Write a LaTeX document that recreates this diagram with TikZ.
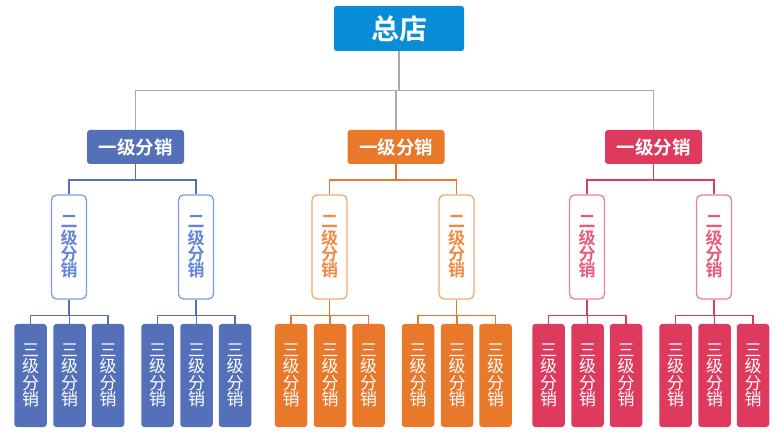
\documentclass[tikz,border=0pt]{standalone}
\usepackage{fontspec}
\newfontfamily\cjk{Noto Sans CJK SC}
\newfontfamily\cjkb{Noto Sans CJK SC Bold}
\definecolor{topc}{HTML}{0A8DD7}
\definecolor{bmain}{HTML}{5470B9}
\definecolor{blight}{HTML}{7C9CE6}
\definecolor{btext}{HTML}{6584D9}
\definecolor{omain}{HTML}{E8782A}
\definecolor{olight}{HTML}{F5A86E}
\definecolor{otext}{HTML}{EF8A44}
\definecolor{rmain}{HTML}{DE3A5E}
\definecolor{rlight}{HTML}{EE7E97}
\definecolor{rtext}{HTML}{E65A7B}
\definecolor{graylink}{HTML}{AAAAAA}
\tikzset{
  topn/.style={fill=topc, rounded corners=2.5pt, minimum width=130pt, minimum height=45pt, inner sep=0pt, text=white, font=\cjkb\fontsize{28}{32}\selectfont},
  lvA/.style={rounded corners=3pt, minimum width=97pt, minimum height=34pt, inner sep=0pt, text=white, font=\cjkb\fontsize{18.5}{22}\selectfont},
  lvB/.style={fill=white, rounded corners=5pt, line width=1.3pt, minimum width=35pt, minimum height=104pt, inner sep=0pt, align=center, font=\cjkb\fontsize{17}{16.3}\selectfont},
  lvC/.style={rounded corners=3pt, minimum width=32.5pt, minimum height=103pt, inner sep=0pt, align=center, text=white, font=\cjk\fontsize{17}{16.5}\selectfont},
  conn/.style={line width=1.4pt},
}
\newcommand\subgrp[4]{% #1 name, #2 cx, #3 main, #4 light
  \node[lvC, fill=#3] (#1a) at ({#2-38.5},375.5) {三\\级\\分\\销};
  \node[lvC, fill=#3] (#1b) at ({#2+0.5},375.5) {三\\级\\分\\销};
  \node[lvC, fill=#3] (#1c) at ({#2+39},375.5) {三\\级\\分\\销};
  \draw[conn, draw=#3] (#1.south) -- ++(0,16) coordinate (#1bus);
  \draw[conn, draw=#3] (#1a.north) |- (#1bus) -| (#1c.north);
  \draw[conn, draw=#3] (#1b.north) -- (#1b.north |- #1bus);
}
\newcommand\grp[5]{% #1 name, #2 cx, #3 main, #4 light, #5 text
  \node[lvA, fill=#3] (#1) at (#2,147) {一级分销};
  \node[lvB, draw=#4, text=#5] (#1L) at ({#2-66.5},247) {二\\级\\分\\销};
  \node[lvB, draw=#4, text=#5] (#1R) at ({#2+60.5},247) {二\\级\\分\\销};
  \draw[conn, draw=#3] (#1.south) -- ++(0,16) coordinate (#1bus);
  \draw[conn, draw=#3] (#1L.north) |- (#1bus) -| (#1R.north);
  \subgrp{#1L}{#2-66.5}{#3}{#4}
  \subgrp{#1R}{#2+60.5}{#3}{#4}
}
\begin{document}
\begin{tikzpicture}[x=1pt, y=-1pt]
  \useasboundingbox (0,0) rectangle (784,435);
  \node[topn] (top) at (399,28.5) {总店};
  \grp{B}{135.5}{bmain}{blight}{btext}
  \grp{O}{396}{omain}{olight}{otext}
  \grp{R}{653.5}{rmain}{rlight}{rtext}
  \draw[line width=1.2pt, graylink] (top.south) -- ++(0,39) coordinate (topbus);
  \draw[line width=1.2pt, graylink] (B.north) |- (topbus) -| (R.north);
  \draw[line width=1.2pt, graylink] (O.north) -- (O.north |- topbus);
\end{tikzpicture}
\end{document}
